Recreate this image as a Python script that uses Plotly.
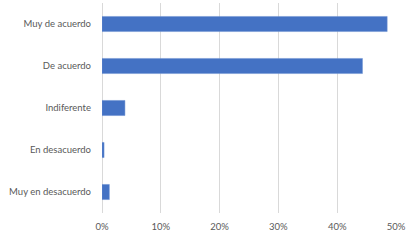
import plotly.graph_objects as go

categories = ["Muy de acuerdo", "De acuerdo", "Indiferente", "En desacuerdo", "Muy en desacuerdo"]
values = [48.5, 44.3, 3.9, 0.35, 1.25]
tick_vals = [0, 10, 20, 30, 40, 50]
tick_text = ["0%", "10%", "20%", "30%", "40%", "50%"]

fig = go.Figure(go.Bar(
    y=categories,
    x=values,
    orientation="h",
    marker=dict(color="#4472C4", line=dict(color="#6f93d3", width=0.5)),
    hoverinfo="skip",
))

fig.update_layout(
    width=415, height=243,
    margin=dict(l=102, r=19, t=3, b=30),
    paper_bgcolor="white", plot_bgcolor="white",
    bargap=0.64,
    showlegend=False,
    font=dict(family="Lato, 'Open Sans', sans-serif", size=9.5, color="#595959"),
)
fig.update_xaxes(
    range=[0, 50], tickvals=tick_vals, ticktext=tick_text,
    showgrid=True, gridcolor="#d9d9d9", gridwidth=1,
    zeroline=True, zerolinecolor="#d9d9d9", zerolinewidth=1,
    showline=False, ticks="", ticklabelstandoff=6, automargin=False,
)
fig.update_yaxes(
    autorange="reversed", showgrid=False, zeroline=False, showline=False,
    ticks="", ticklabelstandoff=10, automargin=False,
)

fig.write_html(
    "out.html",
    config={"displayModeBar": False, "staticPlot": True},
    post_script="document.body.style.margin='0';",
)
